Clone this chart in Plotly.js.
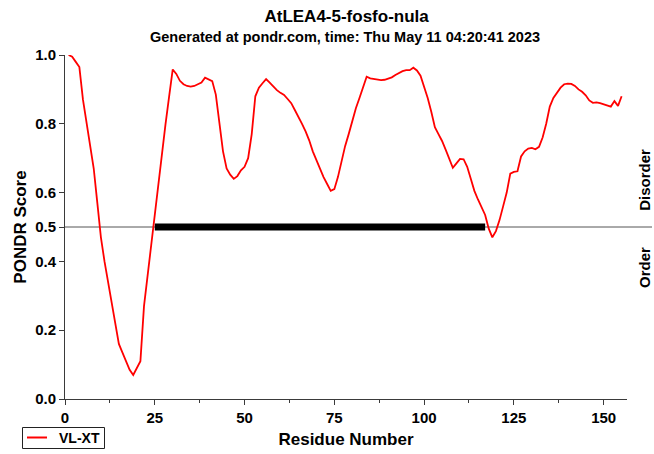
<!DOCTYPE html>
<html>
<head>
<meta charset="utf-8">
<script src="https://cdn.plot.ly/plotly-3.0.1.min.js"></script>
<style>
  html, body { margin: 0; padding: 0; background: #fff; }
  #chart { width: 654px; height: 454px; }
</style>
</head>
<body>
<div id="chart"></div>
<script>
// PONDR VL-XT disorder prediction for AtLEA4-5-fosfo-nula
const chartTitle = 'AtLEA4-5-fosfo-nula';
const chartSubtitle = 'Generated at pondr.com, time: Thu May 11 04:20:41 2023';
const seriesName = 'VL-XT';

const residues = [
  1, 2, 3, 4, 5, 6, 7, 8, 9, 10,
  11, 12, 13, 14, 15, 16, 17, 18, 19, 20,
  21, 22, 23, 24, 25, 26, 27, 28, 29, 30,
  31, 32, 33, 34, 35, 36, 37, 38, 39, 40,
  41, 42, 43, 44, 45, 46, 47, 48, 49, 50,
  51, 52, 53, 54, 55, 56, 57, 58, 59, 60,
  61, 62, 63, 64, 65, 66, 67, 68, 69, 70,
  71, 72, 73, 74, 75, 76, 77, 78, 79, 80,
  81, 82, 83, 84, 85, 86, 87, 88, 89, 90,
  91, 92, 93, 94, 95, 96, 97, 98, 99, 100,
  101, 102, 103, 104, 105, 106, 107, 108, 109, 110,
  111, 112, 113, 114, 115, 116, 117, 118, 119, 120,
  121, 122, 123, 124, 125, 126, 127, 128, 129, 130,
  131, 132, 133, 134, 135, 136, 137, 138, 139, 140,
  141, 142, 143, 144, 145, 146, 147, 148, 149, 150,
  151, 152, 153, 154, 155
];

const vlxtScores = [
  1.000, 0.995, 0.980, 0.965, 0.870, 0.800, 0.740, 0.670, 0.570, 0.470,
  0.400, 0.340, 0.290, 0.220, 0.160, 0.135, 0.110, 0.085, 0.070, 0.090,
  0.110, 0.270, 0.360, 0.450, 0.540, 0.625, 0.710, 0.800, 0.880, 0.958,
  0.945, 0.925, 0.915, 0.910, 0.908, 0.910, 0.915, 0.920, 0.934, 0.928,
  0.924, 0.885, 0.810, 0.720, 0.670, 0.652, 0.640, 0.648, 0.665, 0.675,
  0.700, 0.770, 0.880, 0.905, 0.918, 0.930, 0.920, 0.908, 0.898, 0.890,
  0.884, 0.872, 0.860, 0.840, 0.822, 0.800, 0.778, 0.752, 0.720, 0.695,
  0.666, 0.645, 0.625, 0.605, 0.610, 0.645, 0.690, 0.735, 0.770, 0.810,
  0.845, 0.875, 0.905, 0.937, 0.932, 0.930, 0.928, 0.927, 0.928, 0.932,
  0.935, 0.942, 0.948, 0.953, 0.956, 0.956, 0.963, 0.955, 0.940, 0.910,
  0.875, 0.835, 0.790, 0.770, 0.750, 0.725, 0.700, 0.672, 0.685, 0.698,
  0.697, 0.675, 0.640, 0.605, 0.580, 0.555, 0.535, 0.495, 0.470, 0.488,
  0.520, 0.560, 0.600, 0.655, 0.660, 0.662, 0.705, 0.720, 0.728, 0.730,
  0.726, 0.733, 0.760, 0.800, 0.850, 0.875, 0.890, 0.905, 0.915, 0.917,
  0.916, 0.910, 0.900, 0.893, 0.883, 0.868, 0.861, 0.862, 0.860, 0.856,
  0.853, 0.850, 0.866, 0.852, 0.880
];

// predicted disordered segments (drawn as a thick bar on the threshold)
const disorderStart = [25];
const disorderEnd = [117];
const threshold = 0.5;

const yTickValues = [0, 0.2, 0.4, 0.5, 0.6, 0.8, 1.0];
const yTickLabels = ['0.0', '0.2', '0.4', '0.5', '0.6', '0.8', '1.0'];
const xTickValues = [0, 25, 50, 75, 100, 125, 150];

const font = 'Liberation Sans, Arial, Helvetica, sans-serif';
const axisColor = '#3a3a3a';
const lineColor = '#ff0000';

// plot-area geometry in pixels, used to place the boxed legend below the axes
const W = 654, H = 454;
const M = { l: 65, r: 27, t: 55, b: 55 };
const plotW = W - M.l - M.r, plotH = H - M.t - M.b;
const px = v => (v - M.l) / plotW;          // pixel x -> paper x
const py = v => (H - M.b - v) / plotH;      // pixel y -> paper y

const traces = [];

disorderStart.forEach((s, i) => {
  traces.push({
    x: [s, disorderEnd[i]],
    y: [threshold, threshold],
    mode: 'lines',
    line: { color: '#000', width: 7 },
    showlegend: false,
    hoverinfo: 'skip'
  });
});

traces.push({
  x: residues,
  y: vlxtScores,
  name: seriesName,
  mode: 'lines',
  line: { color: lineColor, width: 1.8 },
  showlegend: false
});

const layout = {
  width: W,
  height: H,
  margin: M,
  paper_bgcolor: '#fff',
  plot_bgcolor: '#fff',
  font: { family: font, color: '#000' },
  showlegend: false,
  title: {
    text: '<b>' + chartTitle + '</b>',
    font: { size: 17, family: font, color: '#000' },
    x: 0.53, xanchor: 'center', xref: 'container',
    y: 1 - 16 / H, yanchor: 'middle', yref: 'container'
  },
  xaxis: {
    range: [0, 156.5],
    tickvals: xTickValues,
    ticks: 'outside', ticklen: 5, tickcolor: axisColor, tickwidth: 1,
    minor: { dtick: 12.5, tick0: 0, ticks: 'outside', ticklen: 3, tickcolor: axisColor, showgrid: false },
    showline: true, linecolor: axisColor, linewidth: 1,
    showgrid: false, zeroline: false,
    tickfont: { size: 15, family: font, weight: 'bold', color: '#000' },
    title: { text: '<b>Residue Number</b>', font: { size: 17, family: font, color: '#000' }, standoff: 8 }
  },
  yaxis: {
    range: [0, 1],
    tickvals: yTickValues,
    ticktext: yTickLabels,
    ticks: 'outside', ticklen: 5, tickcolor: axisColor, tickwidth: 1,
    showline: true, linecolor: axisColor, linewidth: 1,
    showgrid: false, zeroline: false,
    tickfont: { size: 15, family: font, weight: 'bold', color: '#000' },
    title: { text: '<b>PONDR Score</b>', font: { size: 17, family: font, color: '#000' }, standoff: 4 }
  },
  shapes: [
    {
      type: 'line', xref: 'paper', yref: 'y',
      x0: 0, x1: px(652), y0: threshold, y1: threshold,
      line: { color: '#555', width: 1 },
      layer: 'below'
    },
    // legend frame and line sample
    {
      type: 'rect', xref: 'paper', yref: 'paper',
      x0: px(22.5), x1: px(104.5), y0: py(427.5), y1: py(448.5),
      line: { color: '#222', width: 1 }, fillcolor: '#fff'
    },
    {
      type: 'line', xref: 'paper', yref: 'paper',
      x0: px(27), x1: px(47), y0: py(437.5), y1: py(437.5),
      line: { color: lineColor, width: 2 }
    }
  ],
  annotations: [
    {
      text: '<b>' + chartSubtitle + '</b>',
      xref: 'paper', yref: 'paper',
      x: px(345), y: py(37),
      xanchor: 'center', yanchor: 'middle',
      showarrow: false,
      font: { size: 14.5, family: font, color: '#000' }
    },
    {
      text: '<b>' + seriesName + '</b>',
      xref: 'paper', yref: 'paper',
      x: px(57), y: py(438),
      xanchor: 'left', yanchor: 'middle',
      showarrow: false,
      font: { size: 14, family: font, color: '#000' }
    },
    {
      text: '<b>Disorder</b>',
      xref: 'paper', yref: 'y',
      x: px(645), y: 0.637,
      xanchor: 'center', yanchor: 'middle',
      textangle: -90, showarrow: false,
      font: { size: 15, family: font, color: '#000' }
    },
    {
      text: '<b>Order</b>',
      xref: 'paper', yref: 'y',
      x: px(645), y: 0.381,
      xanchor: 'center', yanchor: 'middle',
      textangle: -90, showarrow: false,
      font: { size: 15, family: font, color: '#000' }
    }
  ]
};

Plotly.newPlot('chart', traces, layout, { displayModeBar: false, staticPlot: true });
</script>
</body>
</html>
